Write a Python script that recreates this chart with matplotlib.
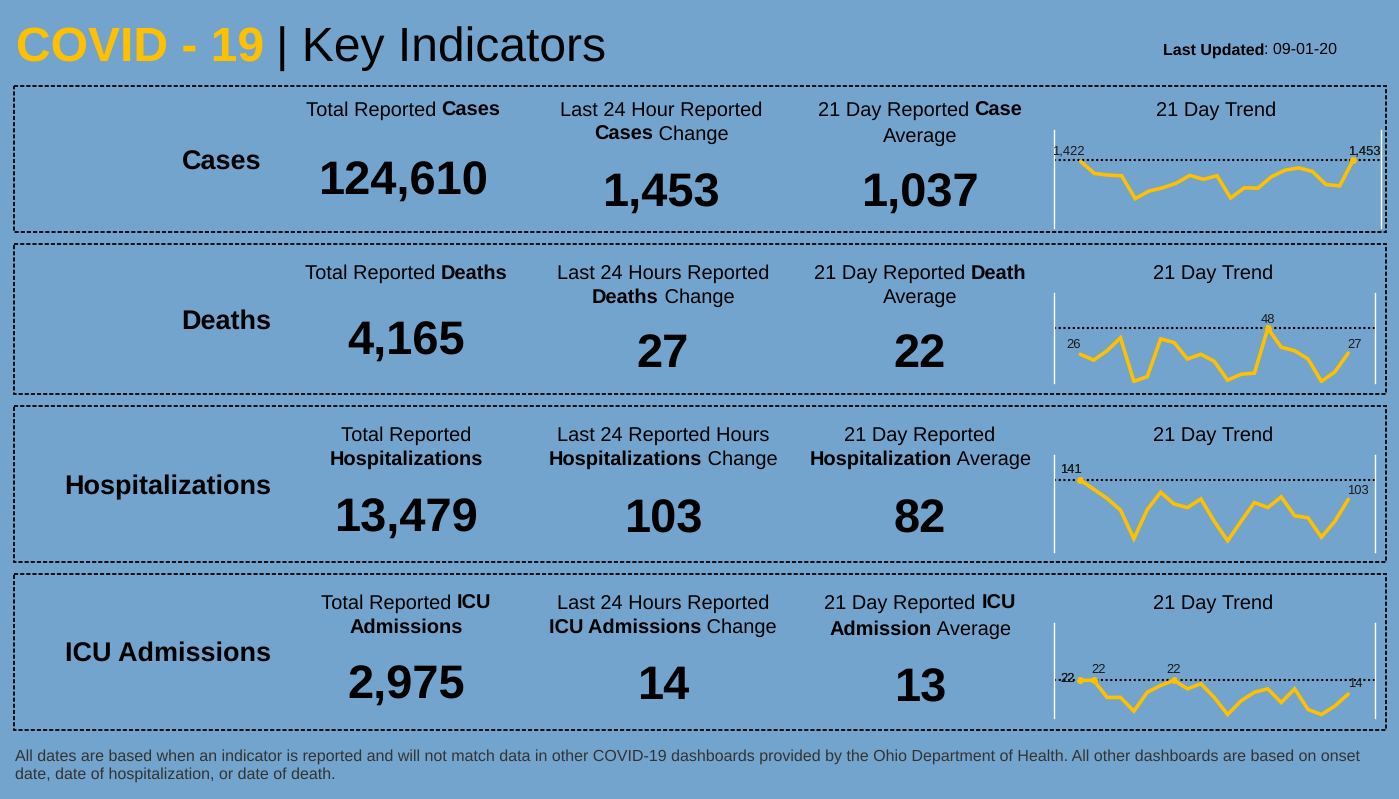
import matplotlib
matplotlib.use("Agg")
import matplotlib.pyplot as plt
from matplotlib.patches import Rectangle

plt.rcParams['font.family'] = ['Liberation Sans', 'DejaVu Sans']
plt.rcParams['text.hinting'] = 'no_hinting'
plt.rcParams['text.hinting_factor'] = 1

W, H = 1399, 799
BG = '#72A4CD'
GOLD = '#FFC000'

# values
row_names = ['Cases', 'Deaths', 'Hospitalizations', 'ICU Admissions']
total_values = ['124,610', '4,165', '13,479', '2,975']
change_values = ['1,453', '27', '103', '14']
average_values = ['1,037', '22', '82', '13']

# * toggles bold
total_heads = [['Total Reported *Cases*'], ['Total Reported *Deaths*'],
               ['Total Reported', '*Hospitalizations*'], ['Total Reported *ICU*', '*Admissions*']]
change_heads = [['Last 24 Hour Reported', '*Cases* Change'], ['Last 24 Hours Reported', '*Deaths* Change'],
                ['Last 24 Reported Hours', '*Hospitalizations* Change'], ['Last 24 Hours Reported', '*ICU Admissions* Change']]
average_heads = [['21 Day Reported *Case*', 'Average'], ['21 Day Reported *Death*', 'Average'],
                 ['21 Day Reported', '*Hospitalization* Average'], ['21 Day Reported *ICU*', '*Admission* Average']]

cases_trend = [1422, 1166, 1131, 1117, 627, 788, 858, 956, 1124, 1040, 1117,
               641, 858, 851, 1096, 1236, 1285, 1208, 928, 900, 1453]
deaths_trend = [26, 21, 29, 40, 3, 7, 39, 36, 22, 26, 20, 4, 9, 10, 48, 32, 29, 22, 3, 11, 27]
hosp_trend = [141, 123, 105, 82, 26, 83, 117, 94, 87, 104, 60, 22, 60, 97, 87, 108, 71, 67, 29, 60, 103]
icu_trend = [22, 22, 12, 12, 4, 15, 19, 22, 17, 20, 12, 2, 10, 15, 17, 9, 17, 5, 2, 7, 14]
trends = [cases_trend, deaths_trend, hosp_trend, icu_trend]

# layout, in pixels of the picture
boxes = [(86, 232), (244, 394), (406, 562), (574, 730)]
label_right = [261, 271, 271, 271]
label_y = [160, 319, 484, 651]
head_x = [[403, 661, 920, 1216], [406, 663, 920, 1213], [406, 663, 920, 1213], [406, 663, 920, 1213]]
head_y = [109, 272, 434, 602]
line2_y = [[133, 133, 135], [296, 296, 296], [458, 458, 458], [626, 626, 628]]
value_y = [[178, 190, 190], [338, 350, 350], [515, 515, 515], [682, 682, 684]]
spark_boxes = [(1053.5, 1380.5, 130, 228), (1053.5, 1375, 293, 383),
               (1053.5, 1375, 455, 552), (1053.5, 1375, 623, 718)]
spark_ylims = [(0, 2094), (1.6, 78), (0, 190), (0, 55.4)]
# index of point, x offset, y offset (points), number of draws
spark_labels = [[(0, -9, 3, 1), (20, 8, 2, 2)],
                [(0, -5, 3, 1), (14, 0, 2, 1), (20, 4.5, 2, 1)],
                [(0, -7, 3, 2), (20, 7, 2, 1)],
                [(0, -9, -3.5, 2), (1, 3.5, 3.5, 1), (7, 0, 3.5, 1), (20, 5, 3, 1)]]
dots = [[20], [14], [0], [0, 1, 7]]

fig = plt.figure(figsize=(W / 100, H / 100), dpi=100, facecolor=BG)
bg = fig.add_axes([0, 0, 1, 1])
bg.set_xlim(0, W)
bg.set_ylim(H, 0)
bg.axis('off')
renderer = fig.canvas.get_renderer()


def put(x, yc, markup, px, ha='center', color='black'):
    # text with bold pieces, yc is the middle of the capitals
    pieces = markup.split('*')
    base = round(yc + 0.358 * px)
    items = []
    total = 0
    for i, p in enumerate(pieces):
        if p == '':
            continue
        weight = 'bold' if i % 2 else 'normal'
        t = bg.text(0, base + 0.2 * (i % 2), p, fontsize=px * 0.72, fontweight=weight, color=color, va='baseline', ha='left')
        w = t.get_window_extent(renderer).width
        items.append((t, w))
        total += w
    cur = x - total / 2 if ha == 'center' else (x - total if ha == 'right' else x)
    for t, w in items:
        t.set_x(cur)
        cur += w


# header
bg.text(16, 61, 'COVID - 19', fontsize=34.3, fontweight='bold', color=GOLD, va='baseline')
bg.text(276, 61, '| Key Indicators', fontsize=34.3, color='black', va='baseline')
put(1163, 48, '*Last Updated*: 09-01-20', 16, ha='left')

for r in range(4):
    top, bottom = boxes[r]
    bg.add_patch(Rectangle((14, top), 1372, bottom - top, fill=False, edgecolor='black', lw=1.3, ls=(0, (2.3, 1.1))))
    put(label_right[r], label_y[r], '*' + row_names[r] + '*', 27, ha='right')

    heads = [total_heads[r], change_heads[r], average_heads[r]]
    vals = [total_values[r], change_values[r], average_values[r]]
    for c in range(3):
        put(head_x[r][c], head_y[r], heads[c][0], 20)
        if len(heads[c]) > 1:
            put(head_x[r][c], line2_y[r][c], heads[c][1], 20)
        put(head_x[r][c], value_y[r][c], '*' + vals[c] + '*', 47.5)
    put(head_x[r][3], head_y[r], '21 Day Trend', 20)

    # sparkline
    x0, x1, y0, y1 = spark_boxes[r]
    ax = fig.add_axes([x0 / W, 1 - y1 / H, (x1 - x0) / W, (y1 - y0) / H])
    ax.patch.set_visible(False)
    vals_t = trends[r]
    days = list(range(len(vals_t)))
    ax.set_xlim(-2, 22)
    ax.set_ylim(*spark_ylims[r])
    ax.set_xticks([])
    ax.set_yticks([])
    for s in ['top', 'bottom']:
        ax.spines[s].set_visible(False)
    for s in ['left', 'right']:
        ax.spines[s].set_color('white')
        ax.spines[s].set_linewidth(1.0)
    ax.axhline(max(vals_t), color='black', ls=(0, (1, 1.25)), lw=1.5, zorder=2)
    ax.plot(days, vals_t, color=GOLD, lw=2.6, solid_capstyle='round', solid_joinstyle='miter', zorder=3)
    ax.plot(dots[r], [vals_t[i] for i in dots[r]], 'o', color=GOLD, ms=4, zorder=3)
    for i, dx, dy, n in spark_labels[r]:
        label = format(vals_t[i], ',')
        for k in range(n):
            ax.annotate(label, (days[i], vals_t[i]), xytext=(dx, dy), textcoords='offset points',
                        ha='center', va='bottom', fontsize=9, color='#1a1a1a', zorder=4)

# footer
note = ['All dates are based when an indicator is reported and will not match data in other COVID-19 dashboards provided by the Ohio Department of Health. All other dashboards are based on onset',
        'date, date of hospitalization, or date of death.']
put(15, 755, note[0], 16, ha='left', color='#333333')
put(15, 773, note[1], 16, ha='left', color='#333333')

fig.savefig('out.png', dpi=100, facecolor=BG)
